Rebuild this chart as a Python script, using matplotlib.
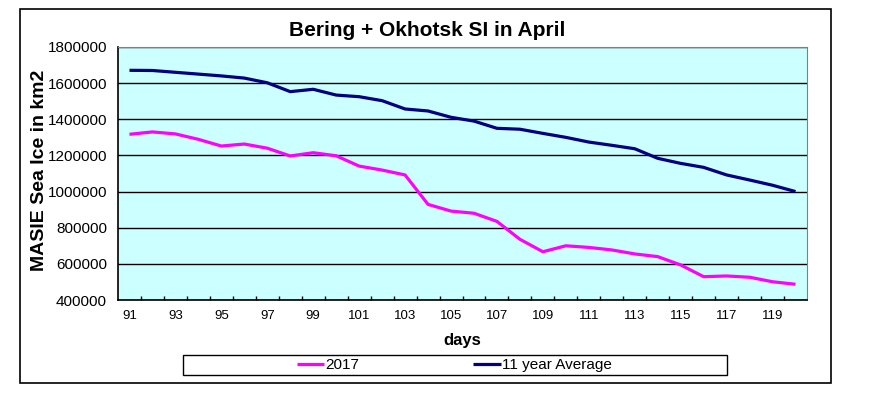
import matplotlib
matplotlib.use('Agg')
import matplotlib.pyplot as plt
from matplotlib.patches import Rectangle

plt.rcParams['font.family'] = ['Liberation Sans', 'DejaVu Sans']

# Day of year (April)
days = list(range(91, 121))

# 2017 extent, km2
ice_2017 = [
    1317000, 1330000, 1319000, 1289000, 1252000, 1263000, 1240000, 1197000, 1215000, 1198000,
    1141000, 1119000, 1092000, 929000, 892000, 880000, 835000, 736000, 667000, 700000,
    691000, 677000, 655000, 640000, 594000, 529000, 533000, 526000, 501000, 487000,
]

# 11 year average extent, km2
ice_avg = [
    1671000, 1670000, 1660000, 1650000, 1640000, 1628000, 1602000, 1553000, 1566000, 1534000,
    1525000, 1503000, 1457000, 1446000, 1411000, 1390000, 1350000, 1345000, 1322000, 1300000,
    1274000, 1256000, 1237000, 1184000, 1156000, 1134000, 1092000, 1064000, 1035000, 1000000,
]

y_ticks = list(range(400000, 1800001, 200000))
x_labels = list(range(91, 121, 2))

W, H = 876, 393
fig = plt.figure(figsize=(W / 100, H / 100), dpi=100)
fig.patch.set_facecolor('white')

# outer chart frame
fig.add_artist(Rectangle((20 / W, 1 - 383 / H), 811 / W, 374 / H, transform=fig.transFigure,
                         fill=False, edgecolor='black', linewidth=1.2))

ax = fig.add_axes([118 / W, 1 - 300 / H, 689 / W, 253 / H])
ax.set_facecolor('#CCFFFF')

ax.plot(days, ice_2017, color='#FF00FF', linewidth=2.3, label='2017', solid_capstyle='butt')
ax.plot(days, ice_avg, color='#000080', linewidth=2.3, label='11 year Average', solid_capstyle='butt')

ax.set_xlim(days[0] - 0.5, days[-1] + 0.5)
ax.set_ylim(y_ticks[0], y_ticks[-1])
ax.set_yticks(y_ticks)
ax.set_yticklabels([str(v) for v in y_ticks], fontsize=11)
ax.yaxis.grid(True, color='black', linewidth=1)
ax.set_axisbelow(True)
ax.tick_params(axis='y', length=0, pad=8)

# tick marks between categories, labels every other day
ax.set_xticks([d - 0.5 for d in days[1:]])
ax.set_xticklabels([])
ax.set_xticks(x_labels, minor=True)
ax.set_xticklabels([str(d) for d in x_labels], minor=True, fontsize=9.5)
ax.tick_params(axis='x', which='major', direction='in', length=3, width=1)
ax.tick_params(axis='x', which='minor', length=0, pad=7)

for side in ['top', 'right']:
    ax.spines[side].set_color('#808080')
for side in ['left', 'bottom']:
    ax.spines[side].set_color('black')
    ax.spines[side].set_linewidth(1.2)

fig.text(427 / W, 1 - 30 / H, 'Bering + Okhotsk SI in April', ha='center', va='center',
         fontsize=15, fontweight='bold')
fig.text(462 / W, 1 - 341 / H, 'days', ha='center', va='center', fontsize=12, fontweight='bold')
fig.text(40 / W, 1 - 170 / H, 'MASIE Sea Ice in km2', ha='center', va='center', rotation=90,
         fontsize=14, fontweight='bold')

# legend box
fig.add_artist(Rectangle((183 / W, 1 - 375 / H), 544 / W, 20 / H, transform=fig.transFigure,
                         fill=False, edgecolor='black', linewidth=1))
fig.legend(loc='center', bbox_to_anchor=(454 / W, 1 - 365 / H), ncol=2, frameon=False,
           fontsize=11, handlelength=1.8, handletextpad=0.05, columnspacing=7.5,
           borderpad=0, borderaxespad=0)

fig.savefig('out.png', dpi=100)
